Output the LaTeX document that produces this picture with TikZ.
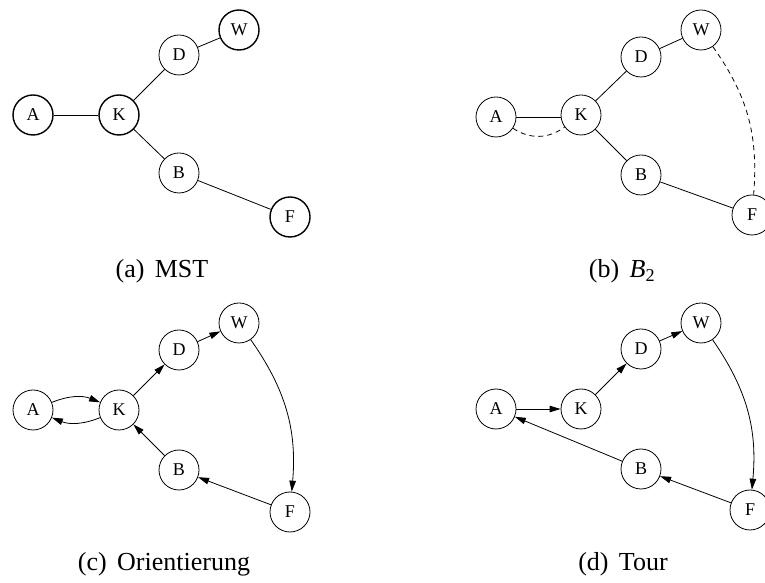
\documentclass[tikz,border=0pt]{standalone}
\usepackage{fontspec}
\setmainfont{Liberation Serif}
\usetikzlibrary{arrows.meta}
\tikzset{
  vert/.style={circle,draw,line width=0.8pt,minimum size=40pt,inner sep=0pt,font=\fontsize{18}{18}\selectfont},
  oddvert/.style={vert,line width=1.4pt},
  edge/.style={line width=0.8pt},
  dedge/.style={line width=0.8pt,dash pattern=on 5pt off 4pt},
  aedge/.style={line width=0.8pt,-{Triangle[length=11pt,width=6.5pt]}},
  captext/.style={anchor=base,font=\fontsize{26}{26}\selectfont,inner sep=0pt}
}
\begin{document}
\begin{tikzpicture}[x=1pt,y=1pt]
\path[use as bounding box] (0,0) rectangle (765,583);
% (a) MST
\begin{scope}[shift={(0,0)}]
\node[oddvert] (aA) at (33,468) {A};
\node[oddvert] (aK) at (119,468) {K};
\node[vert] (aD) at (179,528) {D};
\node[oddvert] (aW) at (239,553) {W};
\node[vert] (aB) at (179,410) {B};
\node[oddvert] (aF) at (290,366) {F};
\draw[edge] (aA) -- (aK);
\draw[edge] (aK) -- (aD);
\draw[edge] (aD) -- (aW);
\draw[edge] (aK) -- (aB);
\draw[edge] (aB) -- (aF);
\end{scope}
% (b) B_2
\begin{scope}[shift={(462,0)}]
\node[vert] (bA) at (34,466) {A};
\node[vert] (bK) at (119,468) {K};
\node[vert] (bD) at (179,526) {D};
\node[vert] (bW) at (239,553) {W};
\node[vert] (bB) at (179,408) {B};
\node[vert] (bF) at (290,368) {F};
\draw[edge] (bA.east) -- (bA.east -| bK.west);
\draw[edge] (bK) -- (bD);
\draw[edge] (bD) -- (bW);
\draw[edge] (bK) -- (bB);
\draw[edge] (bB) -- (bF);
\draw[dedge] (bA) to[bend right=35] (bK);
\draw[dedge] (bW) to[bend left=20] (bF);
\end{scope}
% (c) Orientierung
\begin{scope}[shift={(0,-295)}]
\node[vert] (cA) at (33,468) {A};
\node[vert] (cK) at (119,468) {K};
\node[vert] (cD) at (179,528) {D};
\node[vert] (cW) at (239,555) {W};
\node[vert] (cB) at (179,408) {B};
\node[vert] (cF) at (290,366) {F};
\draw[aedge] (cA) to[bend left=22] (cK);
\draw[aedge] (cK) to[bend left=22] (cA);
\draw[aedge] (cK) -- (cD);
\draw[aedge] (cD) -- (cW);
\draw[aedge] (cW) to[bend left=20] (cF);
\draw[aedge] (cF) -- (cB);
\draw[aedge] (cB) -- (cK);
\end{scope}
% (d) Tour
\begin{scope}[shift={(462,-294)}]
\node[vert] (dA) at (34,468) {A};
\node[vert] (dK) at (119,468) {K};
\node[vert] (dD) at (179,528) {D};
\node[vert] (dW) at (239,554) {W};
\node[vert] (dB) at (179,408) {B};
\node[vert] (dF) at (288,367) {F};
\draw[aedge] (dA) -- (dK);
\draw[aedge] (dK) -- (dD);
\draw[aedge] (dD) -- (dW);
\draw[aedge] (dW) to[bend left=20] (dF);
\draw[aedge] (dF) -- (dB);
\draw[aedge] (dB) -- (dA);
\end{scope}
% captions
\node[captext] (capa) at (162,305) {(a)\hspace{0.4em}MST};
\node[captext] (capb) at (622,305) {(b)\hspace{0.4em}{\itshape B}\textsubscript{2}};
\node[captext] (capc) at (164,12) {(c)\hspace{0.4em}Orientierung};
\node[captext] (capd) at (623,12) {(d)\hspace{0.4em}Tour};
\end{tikzpicture}
\end{document}
